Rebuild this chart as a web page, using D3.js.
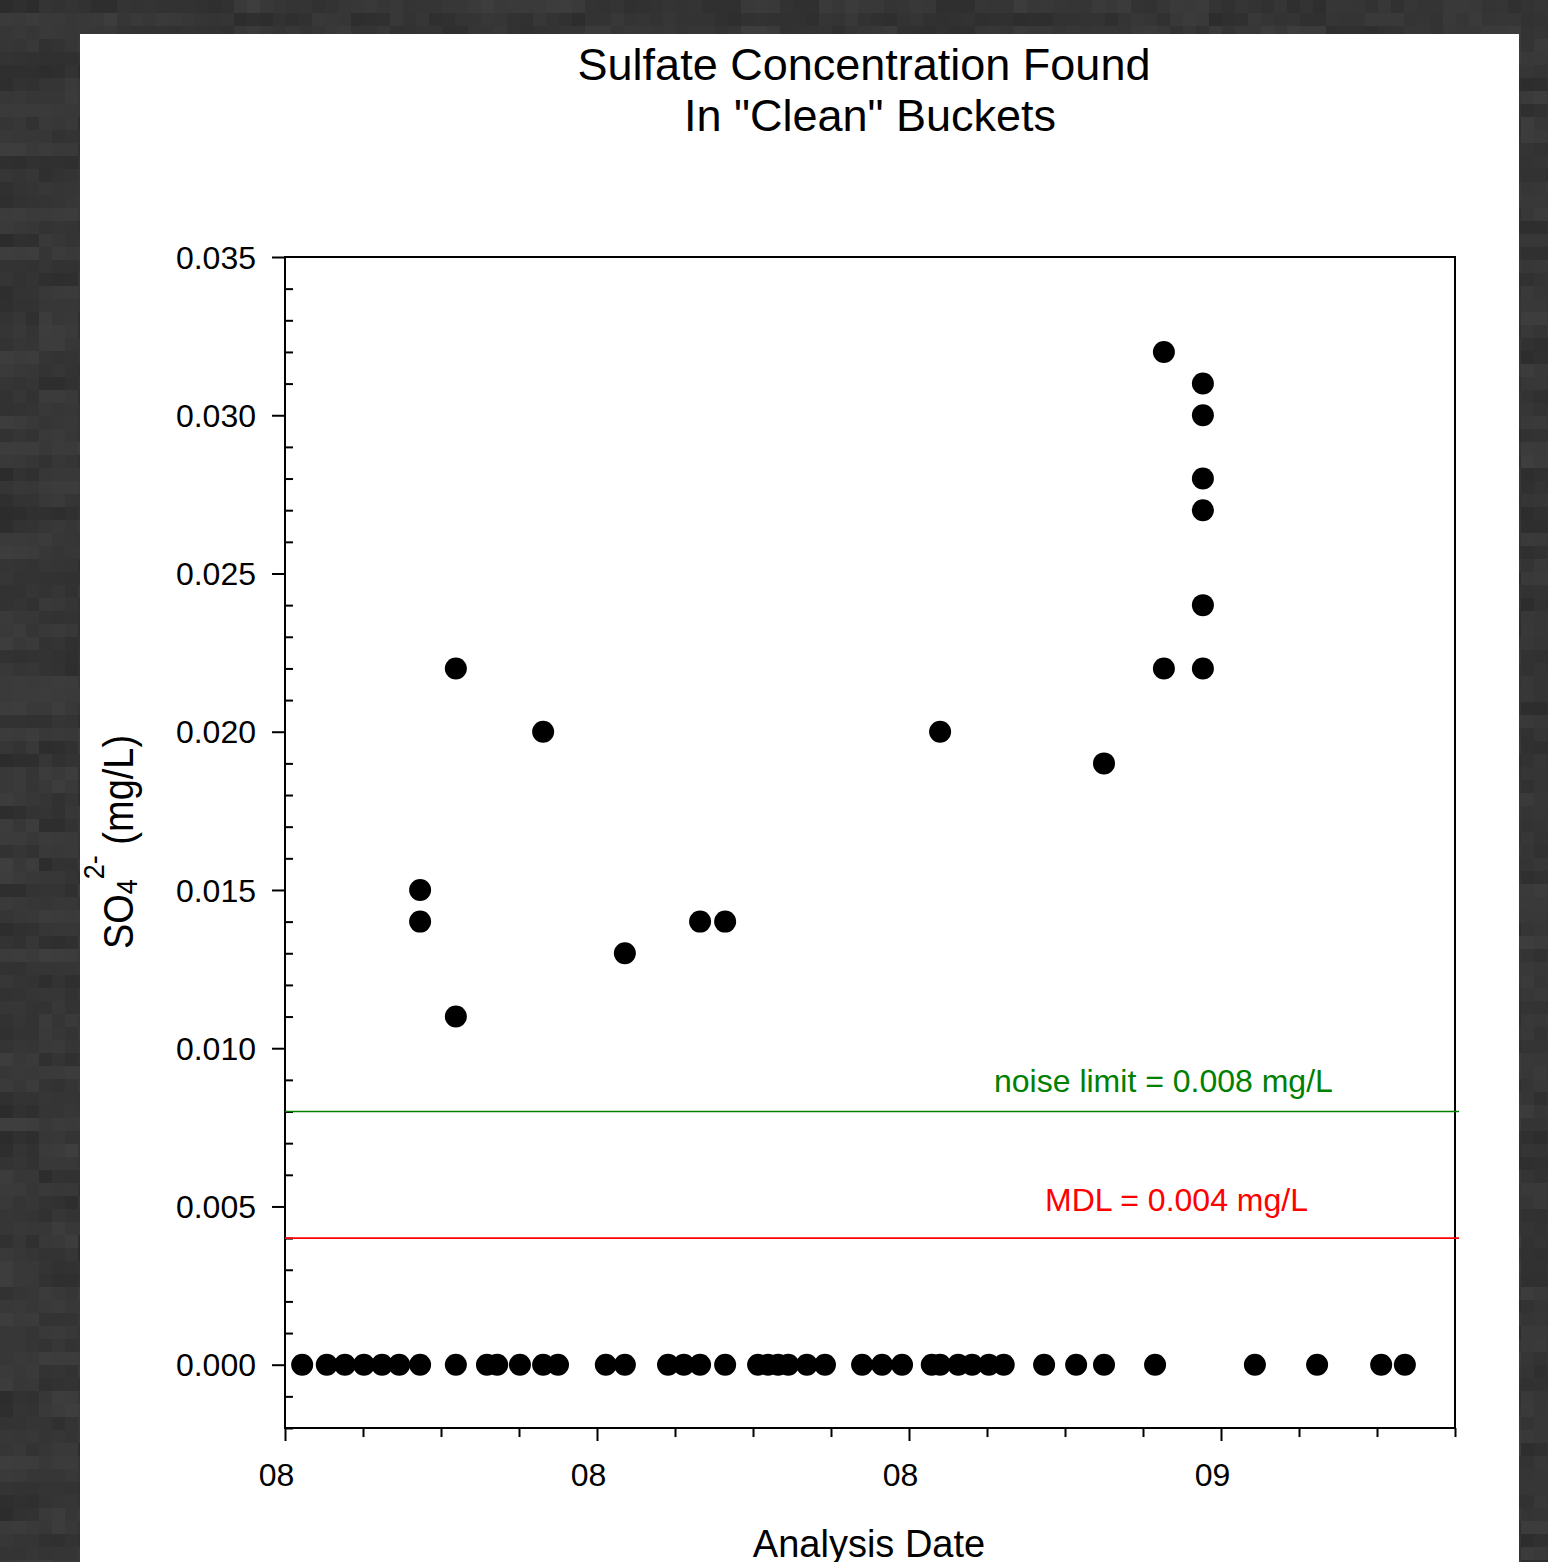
<!DOCTYPE html>
<html>
<head>
<meta charset="utf-8">
<script src="https://cdn.jsdelivr.net/npm/d3@7"></script>
<style>
  html, body { margin: 0; padding: 0; background: #333; }
  svg { display: block; }
  text { font-family: "Liberation Sans", Arial, Helvetica, sans-serif; }
</style>
</head>
<body>
<script>
// Sulfate (SO4 2-) found in "clean" buckets, by analysis date (UTC).
const sampleDates = [
  "2008-10-14 13:00", "2008-10-16 18:00", "2008-10-18 09:00", "2008-10-20 02:00",
  "2008-10-21 17:00", "2008-10-23 06:00",
  "2008-10-25 03:00", "2008-10-25 03:00", "2008-10-25 03:00",
  "2008-10-28 08:00", "2008-10-28 08:00", "2008-10-28 08:00",
  "2008-10-31 03:00", "2008-11-01 01:00", "2008-11-03 02:00",
  "2008-11-05 04:00", "2008-11-05 04:00",
  "2008-11-06 12:00", "2008-11-10 19:00",
  "2008-11-12 12:00", "2008-11-12 12:00",
  "2008-11-16 09:00", "2008-11-17 19:00",
  "2008-11-19 06:00", "2008-11-19 06:00",
  "2008-11-21 12:00", "2008-11-21 12:00",
  "2008-11-24 11:00", "2008-11-25 08:00", "2008-11-26 06:00", "2008-11-27 04:00",
  "2008-11-28 20:00", "2008-11-30 11:00",
  "2008-12-03 19:00", "2008-12-05 14:00", "2008-12-07 09:00", "2008-12-10 01:00",
  "2008-12-10 19:00", "2008-12-10 19:00",
  "2008-12-12 10:00", "2008-12-13 16:00", "2008-12-15 04:00", "2008-12-16 12:00",
  "2008-12-20 03:00", "2008-12-23 00:00",
  "2008-12-25 12:00", "2008-12-25 12:00",
  "2008-12-30 02:00",
  "2008-12-30 21:00", "2008-12-30 21:00",
  "2009-01-03 09:00", "2009-01-03 09:00", "2009-01-03 09:00", "2009-01-03 09:00",
  "2009-01-03 09:00", "2009-01-03 09:00",
  "2009-01-08 01:00", "2009-01-13 15:00", "2009-01-19 09:00", "2009-01-21 12:00"
];

const so4Values = [
  0, 0, 0, 0,
  0, 0,
  0.015, 0.014, 0,
  0.022, 0.011, 0,
  0, 0, 0,
  0.020, 0,
  0, 0,
  0.013, 0,
  0, 0,
  0.014, 0,
  0.014, 0,
  0, 0, 0, 0,
  0, 0,
  0, 0, 0, 0,
  0.020, 0,
  0, 0, 0, 0,
  0, 0,
  0.019, 0,
  0,
  0.032, 0.022,
  0.031, 0.030, 0.028, 0.027,
  0.024, 0.022,
  0, 0, 0, 0
];

// Axis extents and tick values
const xDomain = ["2008-10-13", "2009-01-26"];
const xMajorTicks = ["2008-10-13", "2008-11-10", "2008-12-08", "2009-01-05"];
const yDomain = [-0.002, 0.035];
const yMajorTicks = [0.000, 0.005, 0.010, 0.015, 0.020, 0.025, 0.030, 0.035];

// Reference levels
const limitValues = [0.008, 0.004];
const limitLabels = ["noise limit = 0.008 mg/L", "MDL = 0.004 mg/L"];
const limitColors = ["#008000", "#ff0000"];

const W = 1548, H = 1562;
const plot = { left: 285, right: 1455, top: 257, bottom: 1428 };

const parseTime = d3.utcParse("%Y-%m-%d %H:%M");
const parseDay = d3.utcParse("%Y-%m-%d");

const points = sampleDates.map((d, i) => ({ date: parseTime(d), value: so4Values[i] }));

const svg = d3.select("body").append("svg")
  .attr("width", W).attr("height", H);

// Dark, slightly mottled backdrop around the white sheet
function shade(i, j) {
  let h = (i * 374761393 + j * 668265263) | 0;
  h = Math.imul(h ^ (h >>> 13), 1274126177);
  h = (h ^ (h >>> 16)) >>> 0;
  return h / 4294967296;
}
const bg = svg.append("g");
bg.append("rect").attr("width", W).attr("height", H).attr("fill", "#333");
const cell = 13;
const cells = [];
for (let j = 0; j * cell < H; j++) {
  for (let i = 0; i * cell < W; i++) {
    const cx = i * cell, cy = j * cell;
    const inside = cx >= 80 && cx + cell <= 1519 && cy >= 34;
    if (!inside) cells.push({ x: cx, y: cy, v: shade(Math.floor(i / 3), j) * 0.65 + shade(i, j) * 0.35 });
  }
}
bg.selectAll("rect.cell").data(cells).join("rect")
  .attr("class", "cell")
  .attr("x", d => d.x).attr("y", d => d.y)
  .attr("width", cell).attr("height", cell)
  .attr("fill", d => { const g = Math.round(44 + d.v * 18); return `rgb(${g},${g},${g})`; });

// White sheet
svg.append("rect")
  .attr("x", 80).attr("y", 34)
  .attr("width", 1519 - 80).attr("height", H - 34)
  .attr("fill", "#fff");

const x = d3.scaleUtc()
  .domain(xDomain.map(parseDay))
  .range([plot.left, plot.right]);

const y = d3.scaleLinear()
  .domain(yDomain)
  .range([plot.bottom, plot.top]);

// Title
const title = svg.append("text")
  .attr("text-anchor", "middle")
  .attr("font-size", 45)
  .attr("fill", "#000");
title.append("tspan").attr("x", 864).attr("y", 80).text("Sulfate Concentration Found");
title.append("tspan").attr("x", 870).attr("y", 131).text('In "Clean" Buckets');

// Frame
svg.append("rect")
  .attr("x", plot.left).attr("y", plot.top)
  .attr("width", plot.right - plot.left).attr("height", plot.bottom - plot.top)
  .attr("fill", "none").attr("stroke", "#000").attr("stroke-width", 2);

// Y axis: labelled major ticks outside, minor ticks inside
const yMinorTicks = d3.range(
  Math.round(yDomain[0] * 1000), Math.round(yDomain[1] * 1000) + 1
).map(v => v / 1000).filter(v => !yMajorTicks.some(m => Math.abs(m - v) < 1e-9));

const yAxis = svg.append("g")
  .attr("transform", `translate(${plot.left},0)`)
  .call(d3.axisLeft(y).tickValues(yMajorTicks).tickSize(13).tickPadding(16)
    .tickFormat(d3.format(".3f")));
yAxis.select(".domain").remove();
yAxis.selectAll(".tick line").attr("stroke-width", 2);
yAxis.selectAll(".tick text")
  .attr("font-size", 32).attr("font-family", null).attr("dy", "0.35em").attr("fill", "#000");

const yMinor = svg.append("g")
  .attr("transform", `translate(${plot.left},0)`)
  .call(d3.axisRight(y).tickValues(yMinorTicks).tickSize(8).tickFormat(""));
yMinor.select(".domain").remove();
yMinor.selectAll(".tick line").attr("stroke-width", 2);

// X axis: weekly ticks, every fourth one labelled by year
const xMajor = xMajorTicks.map(parseDay);
const xMinor = d3.utcMonday.range(x.domain()[0], d3.utcDay.offset(x.domain()[1], 1))
  .filter(d => !xMajor.some(m => +m === +d));

const xAxis = svg.append("g")
  .attr("transform", `translate(0,${plot.bottom})`)
  .call(d3.axisBottom(x).tickValues(xMajor).tickSize(13).tickPadding(22)
    .tickFormat(d3.utcFormat("%y")));
xAxis.select(".domain").remove();
xAxis.selectAll(".tick line").attr("stroke-width", 2);
xAxis.selectAll(".tick text")
  .attr("font-size", 32).attr("x", -9).attr("fill", "#000");

const xMinorAxis = svg.append("g")
  .attr("transform", `translate(0,${plot.bottom})`)
  .call(d3.axisBottom(x).tickValues(xMinor).tickSize(9).tickFormat(""));
xMinorAxis.select(".domain").remove();
xMinorAxis.selectAll(".tick line").attr("stroke-width", 2);

// Axis titles
svg.append("text")
  .attr("x", 869).attr("y", 1557)
  .attr("text-anchor", "middle")
  .attr("font-size", 38)
  .text("Analysis Date");

// SO4 with subscript 4 followed by superscript 2-
const yTitle = svg.append("text")
  .attr("transform", "translate(133,842) rotate(-90) scale(1,1.12)")
  .attr("text-anchor", "middle")
  .attr("font-size", 38);
yTitle.append("tspan").text("SO");
yTitle.append("tspan").attr("font-size", 27).attr("dy", 4).text("4");
yTitle.append("tspan").attr("font-size", 27).attr("dy", -30).text("2-");
yTitle.append("tspan").attr("dy", 26).text("\u00a0(mg/L)");

// Reference lines with their labels
const limits = limitValues.map((v, i) => ({ value: v, label: limitLabels[i], color: limitColors[i] }));
svg.selectAll("line.limit").data(limits).join("line")
  .attr("class", "limit")
  .attr("x1", plot.left).attr("x2", plot.right + 4)
  .attr("y1", d => y(d.value)).attr("y2", d => y(d.value))
  .attr("stroke", d => d.color).attr("stroke-width", 1.6);

svg.selectAll("text.limit").data(limits).join("text")
  .attr("class", "limit")
  .attr("x", (d, i) => i === 0 ? 994 : 1045)
  .attr("y", (d, i) => y(d.value) - (i === 0 ? 20 : 27))
  .attr("font-size", 32)
  .attr("fill", d => d.color)
  .text(d => d.label);

// Samples
svg.append("g").selectAll("circle").data(points).join("circle")
  .attr("cx", d => x(d.date))
  .attr("cy", d => y(d.value))
  .attr("r", 11)
  .attr("fill", "#000");
</script>
</body>
</html>
